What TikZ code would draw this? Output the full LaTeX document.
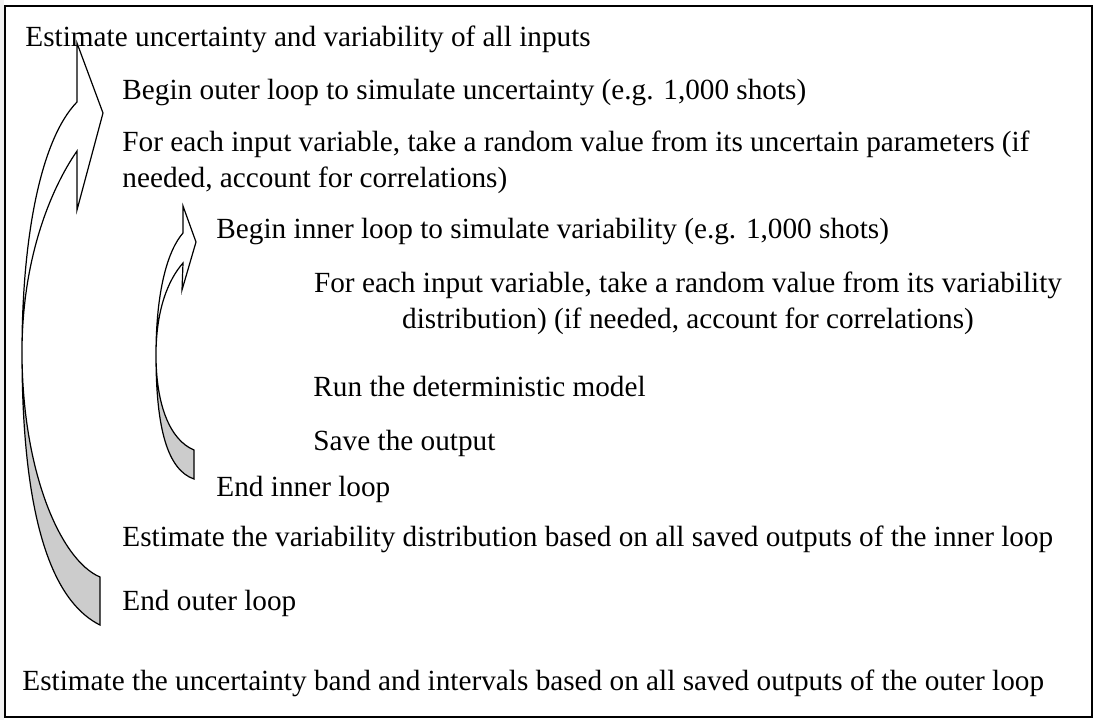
\documentclass[tikz,border=0pt]{standalone}
\usepackage{fontspec}
\setmainfont{Liberation Serif}
\usetikzlibrary{positioning}

\begin{document}
\begin{tikzpicture}
		[x=0.4138pt, y=-0.4138pt,
		 line/.style={anchor=base west, inner sep=0pt, font=\fontsize{12.1}{14.8}\selectfont},
		 band/.style={draw=black, line width=0.5pt, line join=miter},
		 back/.style={fill=black!20}]
		\useasboundingbox (0,0) rectangle (1096,720);
		\fill[black!6] (0,0) rectangle (4,720);
		\draw[line width=0.9pt] (5,6) rectangle (1092,717);

		% outer loop arrow
		\coordinate (oc) at (22,352);
		\fill[back] (oc) .. controls (22,540) and (60,605) .. (100,625) -- (100,577)
			.. controls (60,560) and (22,470) .. (oc) -- cycle;
		\draw[band] (100,625) .. controls (60,605) and (22,540) .. (oc)
			.. controls (22,240) and (40,140) .. (77,102) -- (77,43) -- (103,113) -- (77,210) -- (77,151)
			.. controls (50,190) and (22,260) .. (oc)
			.. controls (22,470) and (60,560) .. (100,577) -- cycle;

		% inner loop arrow
		\coordinate (ic) at (156,355);
		\fill[back] (ic) .. controls (156,430) and (168,470) .. (194,479) -- (194,450)
			.. controls (170,440) and (156,405) .. (ic) -- cycle;
		\draw[band] (194,479) .. controls (168,470) and (156,430) .. (ic)
			.. controls (156,290) and (168,250) .. (183,233) -- (183,206) -- (196,242) -- (182,290) -- (183,263)
			.. controls (168,280) and (156,310) .. (ic)
			.. controls (156,405) and (170,440) .. (194,450) -- cycle;

		% last line of a two-line node sits on the base point
		\node[line] (inputs) at (25,46) {Estimate uncertainty and variability of all inputs};
		\node[line] (outerbegin) at (122,99) {Begin outer loop to simulate uncertainty (e.g. 1,000 shots)};
		\node[line, align=left] (outerdraw) at (122,187) {For each input variable, take a random value from its uncertain parameters (if\\needed, account for correlations)};
		\node[line] (innerbegin) at (216,238) {Begin inner loop to simulate variability (e.g. 1,000 shots)};
		\node[line, anchor=base, align=center] (innerdraw) at (688,328) {For each input variable, take a random value from its variability\\distribution) (if needed, account for correlations)};
		\node[line] (model) at (313,396) {Run the deterministic model};
		\node[line] (save) at (313,450) {Save the output};
		\node[line] (innerend) at (216,496) {End inner loop};
		\node[line] (vardist) at (122,546) {Estimate the variability distribution based on all saved outputs of the inner loop};
		\node[line] (outerend) at (122,610) {End outer loop};
		\node[line] (uncband) at (22,690) {Estimate the uncertainty band and intervals based on all saved outputs of the outer loop};
	\end{tikzpicture}
\end{document}
